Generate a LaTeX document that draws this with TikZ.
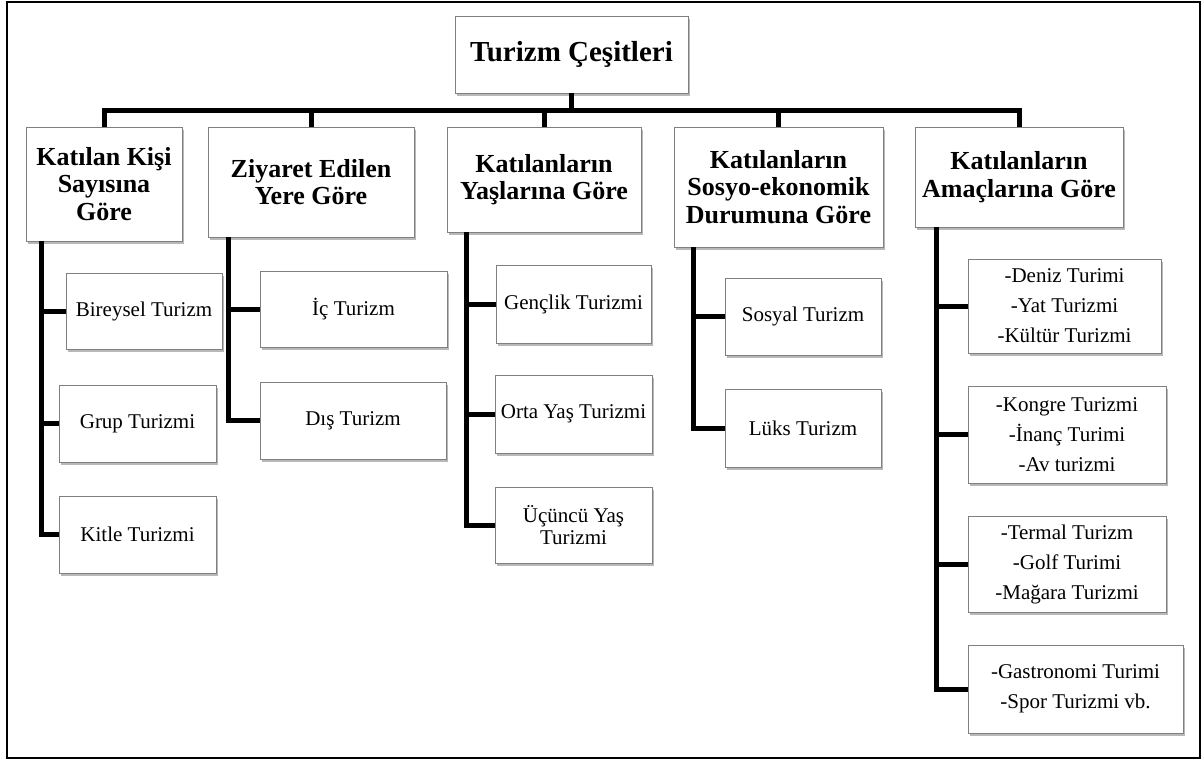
\documentclass[tikz,border=0pt]{standalone}
\usepackage{fontspec}
\setmainfont{Liberation Serif}
\usetikzlibrary{shadows}

\tikzset{
  box/.style={draw=black!50, line width=0.8pt, fill=white, inner sep=0pt,
    align=center,
    drop shadow={shadow xshift=1.5pt, shadow yshift=-3pt, fill=black, opacity=0.28}},
  rootbox/.style={box, font=\bfseries\fontsize{29}{32}\selectfont},
  catbox/.style={box, font=\bfseries\fontsize{26}{27.5}\selectfont},
  leafbox/.style={box, font=\fontsize{21}{21.5}\selectfont},
  listbox/.style={box, font=\fontsize{21}{30}\selectfont},
  conn/.style={draw=black, line width=5pt},
  frame/.style={draw=black, line width=2pt}
}

\begin{document}
\begin{tikzpicture}[x=1pt, y=-1pt]
\useasboundingbox (0,0) rectangle (1202,760);
\draw[frame] (7,2) rectangle (1199.5,757.5);

% root
\node[rootbox, minimum width=233pt, minimum height=77pt] (root) at (571.5,54.5) {Turizm Çeşitleri};

% categories
\node[catbox, minimum width=156pt, minimum height=114pt] (c1) at (104,184) {Katılan Kişi\\Sayısına\\Göre};
\node[catbox, minimum width=206pt, minimum height=110pt] (c2) at (311,182) {Ziyaret Edilen\\Yere Göre};
\node[catbox, minimum width=194pt, minimum height=105pt] (c3) at (544,179.5) {Katılanların\\Yaşlarına Göre};
\node[catbox, minimum width=209pt, minimum height=120pt] (c4) at (778.5,187) {Katılanların\\Sosyo-ekonomik\\Durumuna Göre};
\node[catbox, minimum width=208pt, minimum height=100pt] (c5) at (1019,177) {Katılanların\\Amaçlarına Göre};

% by number of participants
\node[leafbox, minimum width=156pt, minimum height=76pt] (bir) at (144,311) {Bireysel Turizm};
\node[leafbox, minimum width=157pt, minimum height=77pt] (grup) at (137.5,423.5) {Grup Turizmi};
\node[leafbox, minimum width=157pt, minimum height=77pt] (kitle) at (137.5,534.5) {Kitle Turizmi};

% by destination
\node[leafbox, minimum width=187pt, minimum height=76pt] (ic) at (353.5,309) {İç Turizm};
\node[leafbox, minimum width=186pt, minimum height=77pt] (dis) at (353,420.5) {Dış Turizm};

% by age
\node[leafbox, minimum width=155pt, minimum height=78pt] (genc) at (573.5,304) {Gençlik Turizmi};
\node[leafbox, minimum width=157pt, minimum height=78pt] (orta) at (573.5,414) {Orta Yaş Turizmi};
\node[leafbox, minimum width=157pt, minimum height=76pt] (ucuncu) at (573.5,525) {Üçüncü Yaş\\Turizmi};

% by socio-economic status
\node[leafbox, minimum width=156pt, minimum height=77pt] (sosyal) at (803,316.5) {Sosyal Turizm};
\node[leafbox, minimum width=156pt, minimum height=78pt] (luks) at (803,428) {Lüks Turizm};

% by purpose
\node[listbox, minimum width=193pt, minimum height=94pt] (p1) at (1064.5,306) {-Deniz Turimi\\-Yat Turizmi\\-Kültür Turizmi};
\node[listbox, minimum width=198pt, minimum height=97pt] (p2) at (1067,434.5) {-Kongre Turizmi\\-İnanç Turimi\\-Av turizmi};
\node[listbox, minimum width=198pt, minimum height=96pt] (p3) at (1067,564) {-Termal Turizm\\-Golf Turimi\\-Mağara Turizmi};
\node[listbox, minimum width=215pt, minimum height=88pt] (p4) at (1075.5,689) {-Gastronomi Turimi\\-Spor Turizmi vb.};

% top-level bus
\coordinate (bus) at (0,110);
\foreach \c in {c1,c2,c3,c4,c5}
  \draw[conn] (root.south) -- (root.south |- bus) -| (\c.north);

% branch connectors
\foreach \k in {bir,grup,kitle}
  \draw[conn] ([xshift=16pt]c1.south west) |- (\k.west);
\foreach \k in {ic,dis}
  \draw[conn] ([xshift=21pt]c2.south west) |- (\k.west);
\foreach \k in {genc,orta,ucuncu}
  \draw[conn] ([xshift=20pt]c3.south west) |- (\k.west);
\foreach \k in {sosyal,luks}
  \draw[conn] ([xshift=20pt]c4.south west) |- (\k.west);
\foreach \k in {p1,p2,p3,p4}
  \draw[conn] ([xshift=22pt]c5.south west) |- (\k.west);
\end{tikzpicture}
\end{document}
